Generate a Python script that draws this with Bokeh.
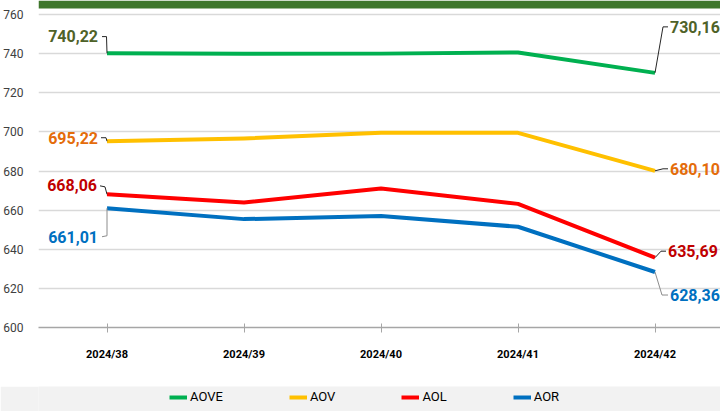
from bokeh.plotting import figure
from bokeh.models import Range1d, SingleIntervalTicker, Legend, LegendItem
from bokeh.layouts import column
from bokeh.embed import file_html
from bokeh.resources import INLINE
from bokeh.core.properties import value

# ---- data ----
WEEKS = ["2024/38", "2024/39", "2024/40", "2024/41", "2024/42"]
SERIES = ["AOVE", "AOV", "AOL", "AOR"]
AOVE = [740.22, 739.9, 740.0, 740.6, 730.16]
AOV = [695.22, 696.6, 699.5, 699.5, 680.10]
AOL = [668.06, 663.9, 671.1, 663.2, 635.69]
AOR = [661.01, 655.4, 657.0, 651.5, 628.36]
Y_MIN, Y_MAX, Y_STEP = 600, 760, 20

VALUES = {"AOVE": AOVE, "AOV": AOV, "AOL": AOL, "AOR": AOR}
LINE_COLORS = {"AOVE": "#00B050", "AOV": "#FFC000", "AOL": "#FF0000", "AOR": "#0070C0"}
LABEL_COLORS = {"AOVE": "#4F6228", "AOV": "#E46C0A", "AOL": "#C00000", "AOR": "#0070C0"}
LEADER_COLORS = {"AOVE": "#262626", "AOV": "#262626", "AOL": "#262626", "AOR": "#8C8C8C"}

# label layout (pixel offsets from the point, y downward): text anchor, leader bend, leader end
LABEL_LAYOUT = {
    ("AOVE", 0): dict(t=(-9, -17), bend=(-0.5, -16.6), end=(-5, -16.6), align="right"),
    ("AOVE", 4): dict(t=(15, -46), bend=(8, -46), end=(13, -46), align="left"),
    ("AOV", 0): dict(t=(-9, -3.5), bend=(-1, -3.5), end=(-6, -3.5), align="right"),
    ("AOV", 4): dict(t=(15, -1.5), bend=(8, -2), end=(13, -2), align="left"),
    ("AOL", 0): dict(t=(-10, -9), bend=(-2, -7.5), end=(-7, -8.5), align="right"),
    ("AOL", 4): dict(t=(13, -6.5), bend=(6, -6.5), end=(11, -6.5), align="left"),
    ("AOR", 0): dict(t=(-9, 28.6), bend=(0, 27.6), end=(-5, 28.6), align="right"),
    ("AOR", 4): dict(t=(15, 23), bend=(7, 23), end=(13, 23), align="left"),
}

FONT = "Roboto"
W = 720
MAIN_H = 386
LEG_H = 25
TOP_GAP = 14        # px between the top of the figure and the 760 gridline
BAR_H = 8           # px height of the dark green header bar
BORDER_L, BORDER_B = 38, 59
X0, X1 = -0.5, 4.478

FRAME_W = W - BORDER_L
PLOT_H = MAIN_H - TOP_GAP - BORDER_B          # pixels spanning Y_MIN..Y_MAX
PX_X = FRAME_W / (X1 - X0)
PX_Y = PLOT_H / (Y_MAX - Y_MIN)
Y_TOP = Y_MAX + TOP_GAP / PX_Y                # frame reaches the very top of the figure

xs = list(range(len(WEEKS)))

p = figure(width=W, height=MAIN_H, output_backend="svg", toolbar_location=None,
           x_range=Range1d(X0, X1), y_range=Range1d(Y_MIN, Y_TOP),
           min_border_left=BORDER_L, min_border_right=0, min_border_top=0,
           min_border_bottom=BORDER_B)
p.outline_line_color = None
p.background_fill_color = "white"
p.border_fill_color = "white"

# dark green header bar across the top
p.quad(left=[X0], right=[X1], bottom=[Y_TOP - BAR_H / PX_Y], top=[Y_TOP],
       fill_color="#3E762B", line_color=None)

# axes
p.xaxis.ticker = xs
p.xaxis.major_label_overrides = {i: w for i, w in enumerate(WEEKS)}
p.xaxis.major_label_text_font = FONT
p.xaxis.major_label_text_font_style = "bold"
p.xaxis.major_label_text_font_size = "11px"
p.xaxis.major_label_text_color = "#000000"
p.xaxis.axis_line_color = "#A6A6A6"
p.xaxis.axis_line_width = 1.5
p.xaxis.major_tick_line_color = "#A6A6A6"
p.xaxis.major_tick_in = 4
p.xaxis.major_tick_out = 5
p.xaxis.minor_tick_line_color = None
p.xaxis.major_label_standoff = 15

p.yaxis.ticker = SingleIntervalTicker(interval=Y_STEP, num_minor_ticks=0)
p.yaxis.major_label_text_font = FONT
p.yaxis.major_label_text_font_size = "12px"
p.yaxis.major_label_text_color = "#404040"
p.yaxis.axis_line_color = None
p.yaxis.major_tick_line_color = None
p.yaxis.minor_tick_line_color = None
p.yaxis.major_label_standoff = 9

p.xgrid.grid_line_color = None
p.ygrid.grid_line_color = "#D9D9D9"
p.ygrid.grid_line_width = 1.5

for s in SERIES:
    p.line(xs, VALUES[s], line_color=LINE_COLORS[s], line_width=4, line_join="round")

# data labels with leader lines
for (s, i), lay in LABEL_LAYOUT.items():
    x, y = xs[i], VALUES[s][i]
    lx = [x, x + lay["bend"][0] / PX_X, x + lay["end"][0] / PX_X]
    ly = [y, y - lay["bend"][1] / PX_Y, y - lay["end"][1] / PX_Y]
    p.line(lx, ly, line_color=LEADER_COLORS[s], line_width=1)
    txt = f"{VALUES[s][i]:.2f}".replace(".", ",")
    p.text(x=[x], y=[y], text=[txt], x_offset=lay["t"][0], y_offset=lay["t"][1],
           text_align=lay["align"], text_baseline="middle",
           text_font=value(FONT), text_font_style="bold", text_font_size="16px",
           text_color=LABEL_COLORS[s])

# legend strip
lg = figure(width=W, height=LEG_H, output_backend="svg", toolbar_location=None,
            x_range=Range1d(0, 1), y_range=Range1d(0, 1),
            x_axis_type=None, y_axis_type=None,
            min_border=0, min_border_left=0, min_border_right=0,
            min_border_top=0, min_border_bottom=0)
lg.grid.visible = False
lg.outline_line_color = None
lg.background_fill_color = "#F2F2F2"
lg.border_fill_color = "#F2F2F2"
items = []
for s in SERIES:
    # series drawn outside the strip's range, only their legend glyphs show
    r = lg.line(xs, VALUES[s], line_color=LINE_COLORS[s], line_width=4)
    items.append(LegendItem(label=s, renderers=[r]))
legend = Legend(items=items, orientation="horizontal", location=(131, 7),
                background_fill_alpha=0, border_line_color=None,
                padding=0, margin=0, spacing=66, glyph_width=18, glyph_height=14,
                label_standoff=3, label_text_font=FONT, label_text_font_size="13px",
                label_text_color="#000000", label_height=14)
lg.add_layout(legend, "center")

layout = column(p, lg, spacing=0)
open("out.html", "w").write(file_html(layout, INLINE))
